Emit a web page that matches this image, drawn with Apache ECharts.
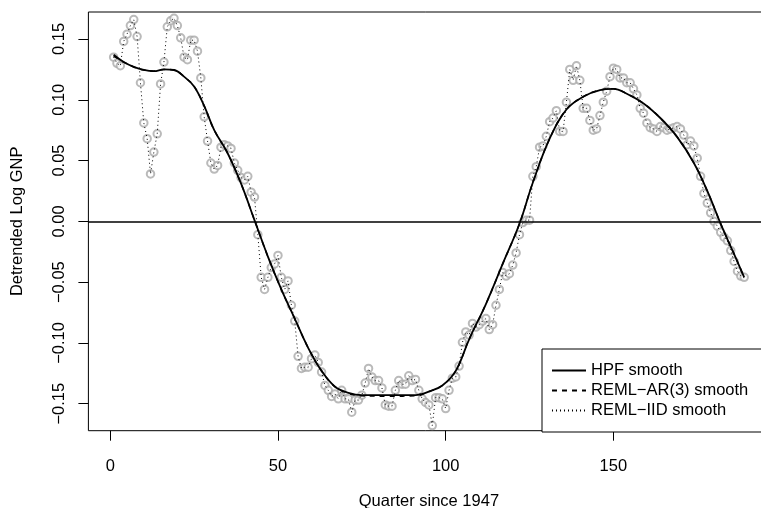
<!DOCTYPE html>
<html>
<head>
<meta charset="utf-8">
<script src="https://cdn.jsdelivr.net/npm/echarts@6/dist/echarts.min.js"></script>
<style>html,body{margin:0;padding:0;background:#fff;}#c{width:761px;height:508px;}</style>
</head>
<body>
<div id="c"></div>
<script>
// Detrended log GNP, quarter 1 .. 189
const gnp = [
  0.135,0.130,0.128,0.148,0.154,0.161,0.166,0.152,0.114,0.081,
  0.068,0.039,0.057,0.072,0.113,0.131,0.160,0.165,0.167,0.161,
  0.151,0.135,0.133,0.149,0.149,0.140,0.118,0.086,0.066,0.048,
  0.043,0.046,0.061,0.063,0.062,0.060,0.048,0.042,0.036,0.034,
  0.037,0.024,0.020,-0.011,-0.046,-0.056,-0.046,-0.038,-0.035,-0.028,
  -0.046,-0.056,-0.049,-0.069,-0.082,-0.111,-0.121,-0.120,-0.120,-0.113,
  -0.110,-0.116,-0.124,-0.135,-0.139,-0.144,-0.142,-0.146,-0.139,-0.146,
  -0.146,-0.157,-0.147,-0.147,-0.143,-0.133,-0.121,-0.128,-0.131,-0.131,
  -0.137,-0.151,-0.152,-0.152,-0.139,-0.131,-0.134,-0.134,-0.127,-0.131,
  -0.130,-0.139,-0.146,-0.149,-0.151,-0.168,-0.145,-0.145,-0.146,-0.154,
  -0.139,-0.129,-0.128,-0.119,-0.0995,-0.091,-0.0935,-0.084,-0.087,-0.085,
  -0.082,-0.080,-0.089,-0.085,-0.069,-0.056,-0.042,-0.045,-0.043,-0.036,
  -0.026,-0.011,-0.001,0.001,0.001,0.037,0.045,0.061,0.062,0.070,
  0.082,0.085,0.091,0.074,0.074,0.098,0.125,0.116,0.128,0.116,
  0.093,0.093,0.083,0.075,0.076,0.087,0.098,0.107,0.119,0.126,
  0.125,0.118,0.118,0.114,0.114,0.109,0.104,0.093,0.089,0.081,
  0.077,0.076,0.074,0.078,0.077,0.075,0.076,0.077,0.078,0.076,
  0.071,0.063,0.066,0.062,0.052,0.037,0.023,0.015,0.007,0.000,
  -0.004,-0.009,-0.013,-0.016,-0.024,-0.033,-0.041,-0.045,-0.046
];
// HPF smooth read at selected quarters
const hpfQ = [1,4,7,10,13,16,19,22,25,28,31,35,39,43,47,51,55,59,63,67,71,75,83,91,95,99,103,107,112,117,122,126,131,136,141,146,150,154,159,164,169,174,178,182,186,189];
const hpfV = [0.137,0.131,0.127,0.1245,0.1235,0.125,0.1245,0.119,0.111,0.095,0.075,0.056,0.031,0.001,-0.029,-0.056,-0.080,-0.104,-0.123,-0.136,-0.141,-0.143,-0.143,-0.143,-0.140,-0.135,-0.123,-0.097,-0.068,-0.035,-0.002,0.032,0.068,0.092,0.1025,0.108,0.109,0.105,0.097,0.085,0.0695,0.048,0.025,-0.002,-0.027,-0.046];
// REML-AR(3) smooth (nearly identical to HPF)
const arV  = [0.136,0.131,0.127,0.1245,0.1235,0.125,0.1245,0.119,0.111,0.095,0.075,0.056,0.031,0.001,-0.029,-0.056,-0.080,-0.104,-0.123,-0.136,-0.1415,-0.1435,-0.1438,-0.1435,-0.140,-0.135,-0.123,-0.097,-0.068,-0.035,-0.002,0.032,0.068,0.092,0.1025,0.108,0.109,0.105,0.097,0.085,0.0695,0.048,0.025,-0.002,-0.027,-0.046];
const xTicks = [0,50,100,150];
const yTicks = [-0.15,-0.10,-0.05,0.00,0.05,0.10,0.15];
const xName = 'Quarter since 1947';
const yName = 'Detrended Log GNP';
const names = ['HPF smooth','REML\u2212AR(3) smooth','REML\u2212IID smooth'];

const pts = gnp.map((v,i)=>[i+1,v]);
const hpf = hpfQ.map((q,i)=>[q,hpfV[i]]);
const ar = hpfQ.map((q,i)=>[q,arV[i]]);
const FONT = 'Liberation Sans, Arial, sans-serif';
const FS = 16.5;
const fmt = v => (v<0?'\u2212':'') + Math.abs(v).toFixed(2);

const chart = echarts.init(document.getElementById('c'), null, {renderer:'canvas'});
chart.setOption({
  animation:false,
  backgroundColor:'#fff',
  grid:{left:88.4, top:12, width:681, height:418.7, outerBoundsMode:'none', containLabel:false,
    show:true, borderColor:'#000', borderWidth:1, backgroundColor:'transparent'},
  xAxis:{type:'value', min:-6.52, max:196.52,
    axisLine:{show:false, onZero:false}, splitLine:{show:false},
    axisTick:{show:true, inside:false, length:10, lineStyle:{color:'#000'}, customValues:xTicks},
    axisLabel:{show:true, margin:27, fontSize:FS, fontFamily:FONT, color:'#000', customValues:xTicks, formatter:v=>String(v)},
    name:xName, nameLocation:'middle', nameGap:62, nameTextStyle:{fontSize:FS, fontFamily:FONT, color:'#000'}
  },
  yAxis:{type:'value', min:-0.1722, max:0.1722,
    axisLine:{show:false, onZero:false}, splitLine:{show:false},
    axisTick:{show:true, inside:false, length:10, lineStyle:{color:'#000'}, customValues:yTicks},
    axisLabel:{show:true, rotate:90, margin:20, fontSize:FS, fontFamily:FONT, color:'#000', customValues:yTicks, formatter:fmt},
    name:yName, nameLocation:'middle', nameGap:62, nameRotate:90, nameTextStyle:{fontSize:FS, fontFamily:FONT, color:'#000'}
  },
  legend:{
    data:names, orient:'vertical', left:542, top:349,
    padding:[13,200,13,9], itemGap:3, itemWidth:34, itemHeight:14,
    borderColor:'#000', borderWidth:1, backgroundColor:'#fff',
    itemStyle:{opacity:0},
    textStyle:{fontSize:FS, fontFamily:FONT, color:'#000'}
  },
  series:[
    {type:'scatter', data:pts, symbol:'emptyCircle', symbolSize:7.5,
     itemStyle:{color:'#a9a9a9', borderColor:'#a9a9a9', borderWidth:1}, z:2, silent:true},
    {name:names[2], type:'line', data:pts, symbol:'none', smooth:false, color:'#000',
     lineStyle:{color:'#000', width:1, type:[1,3]}, z:3},
    {name:names[1], type:'line', data:ar, symbol:'none', smooth:0.4, color:'#000',
     lineStyle:{color:'#000', width:1.5, type:[5,5]}, z:4},
    {name:names[0], type:'line', data:hpf, symbol:'none', smooth:0.4, color:'#000',
     lineStyle:{color:'#000', width:1.8}, z:5,
     markLine:{silent:true, symbol:['none','none'], label:{show:false},
       lineStyle:{color:'#000', width:1.5, type:'solid'}, data:[{yAxis:0}]}}
  ]
});
</script>
</body>
</html>
